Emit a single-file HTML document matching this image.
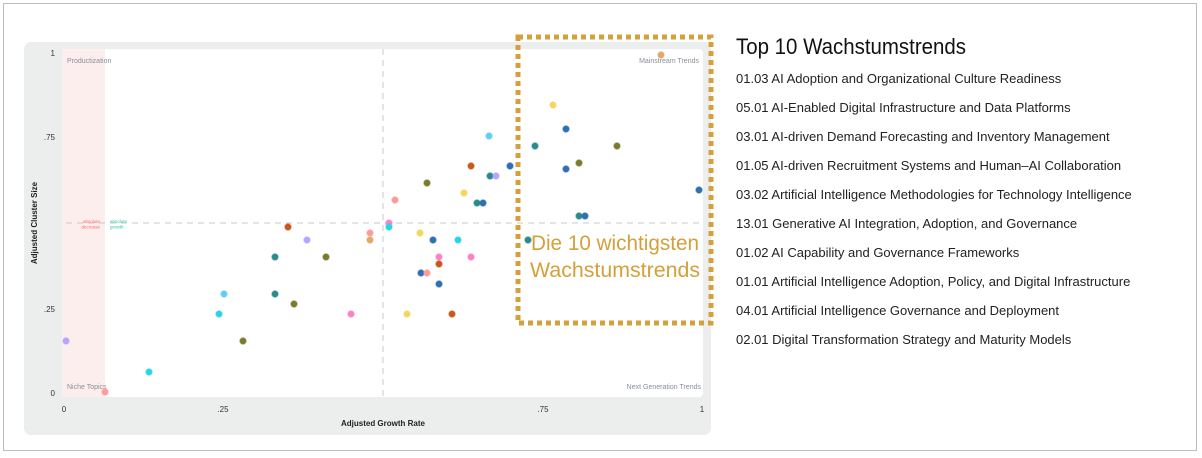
<!DOCTYPE html>
<html><head><meta charset="utf-8"><style>
html,body{margin:0;padding:0;background:#fff;}
svg{display:block;}
</style></head><body>
<svg width="1202" height="458" viewBox="0 0 1202 458" xmlns="http://www.w3.org/2000/svg" font-family="Liberation Sans, sans-serif">
<rect x="3.5" y="3.5" width="1193" height="447" fill="#fff" stroke="#bdbdbd" stroke-width="1"/>
<rect x="24" y="42" width="687" height="393" rx="7" fill="#eceeee"/>
<rect x="62" y="49" width="641" height="348" rx="4" fill="#fff"/>
<rect x="62" y="49" width="43" height="348" fill="#fdeeee"/>
<line x1="383" y1="49" x2="383" y2="397" stroke="#c8c8c8" stroke-dasharray="6,5" stroke-width="1"/>
<line x1="66" y1="223" x2="703" y2="223" stroke="#c8c8c8" stroke-dasharray="6,5" stroke-width="1"/>
<g font-size="7" fill="#8a8f98">
<text x="67" y="63">Productization</text>
<text x="699" y="63" text-anchor="end">Mainstream Trends</text>
<text x="67" y="389">Niche Topics</text>
<text x="701" y="389" text-anchor="end">Next Generation Trends</text>
</g>
<g font-size="4.5">
<text x="100" y="223" text-anchor="end" fill="#ff6a6a">absolute</text>
<text x="100" y="228.5" text-anchor="end" fill="#ff6a6a">decrease</text>
<text x="110" y="223" fill="#2ec4a0">absolute</text>
<text x="110" y="228.5" fill="#2ec4a0">growth</text>
</g>
<g font-size="8" fill="#333">
<text x="55" y="56" text-anchor="end">1</text>
<text x="55" y="140" text-anchor="end">.75</text>
<text x="55" y="312" text-anchor="end">.25</text>
<text x="55" y="396" text-anchor="end">0</text>
<text x="64" y="412" text-anchor="middle">0</text>
<text x="223" y="412" text-anchor="middle">.25</text>
<text x="543" y="412" text-anchor="middle">.75</text>
<text x="702" y="412" text-anchor="middle">1</text>
</g>
<text x="383" y="426" font-size="8" font-weight="bold" fill="#222" text-anchor="middle">Adjusted Growth Rate</text>
<text transform="translate(37,223) rotate(-90)" font-size="8" font-weight="bold" fill="#222" text-anchor="middle">Adjusted Cluster Size</text>
<g stroke-width="1.5" stroke-opacity="0.35">
<circle cx="66" cy="341" r="3.2" fill="#b6a4ff" stroke="#b6a4ff"/>
<circle cx="105" cy="392" r="3.2" fill="#ff9a9a" stroke="#ff9a9a"/>
<circle cx="149" cy="372" r="3.2" fill="#2ad4e8" stroke="#2ad4e8"/>
<circle cx="224" cy="294" r="3.2" fill="#5ecff7" stroke="#5ecff7"/>
<circle cx="219" cy="314" r="3.2" fill="#2ad4e8" stroke="#2ad4e8"/>
<circle cx="243" cy="341" r="3.2" fill="#7b7b2e" stroke="#7b7b2e"/>
<circle cx="275" cy="257" r="3.2" fill="#2b8a8c" stroke="#2b8a8c"/>
<circle cx="275" cy="294" r="3.2" fill="#2b8a8c" stroke="#2b8a8c"/>
<circle cx="288" cy="227" r="3.2" fill="#c8581e" stroke="#c8581e"/>
<circle cx="294" cy="304" r="3.2" fill="#7b7b2e" stroke="#7b7b2e"/>
<circle cx="307" cy="240" r="3.2" fill="#b6a4ff" stroke="#b6a4ff"/>
<circle cx="326" cy="257" r="3.2" fill="#7b7b2e" stroke="#7b7b2e"/>
<circle cx="351" cy="314" r="3.2" fill="#ff80c4" stroke="#ff80c4"/>
<circle cx="370" cy="233" r="3.2" fill="#ff9a9a" stroke="#ff9a9a"/>
<circle cx="370" cy="240" r="3.2" fill="#e2a868" stroke="#e2a868"/>
<circle cx="389" cy="223" r="3.2" fill="#ff80c4" stroke="#ff80c4"/>
<circle cx="389" cy="227" r="3.2" fill="#2ad4e8" stroke="#2ad4e8"/>
<circle cx="395" cy="200" r="3.2" fill="#ff9a9a" stroke="#ff9a9a"/>
<circle cx="407" cy="314" r="3.2" fill="#f0d860" stroke="#f0d860"/>
<circle cx="420" cy="233" r="3.2" fill="#f0d860" stroke="#f0d860"/>
<circle cx="421" cy="273" r="3.2" fill="#2f6fb2" stroke="#2f6fb2"/>
<circle cx="427" cy="273" r="3.2" fill="#ff9a9a" stroke="#ff9a9a"/>
<circle cx="427" cy="183" r="3.2" fill="#7b7b2e" stroke="#7b7b2e"/>
<circle cx="433" cy="240" r="3.2" fill="#2f6fb2" stroke="#2f6fb2"/>
<circle cx="439" cy="257" r="3.2" fill="#ff80c4" stroke="#ff80c4"/>
<circle cx="439" cy="264" r="3.2" fill="#c8581e" stroke="#c8581e"/>
<circle cx="439" cy="284" r="3.2" fill="#2f6fb2" stroke="#2f6fb2"/>
<circle cx="452" cy="314" r="3.2" fill="#c8581e" stroke="#c8581e"/>
<circle cx="458" cy="240" r="3.2" fill="#2ad4e8" stroke="#2ad4e8"/>
<circle cx="464" cy="193" r="3.2" fill="#f0d860" stroke="#f0d860"/>
<circle cx="471" cy="257" r="3.2" fill="#ff80c4" stroke="#ff80c4"/>
<circle cx="471" cy="166" r="3.2" fill="#c8581e" stroke="#c8581e"/>
<circle cx="477" cy="203" r="3.2" fill="#2b8a8c" stroke="#2b8a8c"/>
<circle cx="483" cy="203" r="3.2" fill="#2f6fb2" stroke="#2f6fb2"/>
<circle cx="489" cy="136" r="3.2" fill="#5ecff7" stroke="#5ecff7"/>
<circle cx="490" cy="176" r="3.2" fill="#2b8a8c" stroke="#2b8a8c"/>
<circle cx="496" cy="176" r="3.2" fill="#b6a4ff" stroke="#b6a4ff"/>
<circle cx="510" cy="166" r="3.2" fill="#2f6fb2" stroke="#2f6fb2"/>
<circle cx="528" cy="240" r="3.2" fill="#2b8a8c" stroke="#2b8a8c"/>
<circle cx="535" cy="146" r="3.2" fill="#2b8a8c" stroke="#2b8a8c"/>
<circle cx="553" cy="105" r="3.2" fill="#f0d860" stroke="#f0d860"/>
<circle cx="566" cy="129" r="3.2" fill="#2f6fb2" stroke="#2f6fb2"/>
<circle cx="566" cy="169" r="3.2" fill="#2f6fb2" stroke="#2f6fb2"/>
<circle cx="579" cy="163" r="3.2" fill="#7b7b2e" stroke="#7b7b2e"/>
<circle cx="579" cy="216" r="3.2" fill="#2b8a8c" stroke="#2b8a8c"/>
<circle cx="585" cy="216" r="3.2" fill="#2f6fb2" stroke="#2f6fb2"/>
<circle cx="617" cy="146" r="3.2" fill="#7b7b2e" stroke="#7b7b2e"/>
<circle cx="661" cy="55" r="3.2" fill="#e2a868" stroke="#e2a868"/>
<circle cx="699" cy="190" r="3.2" fill="#2f6fb2" stroke="#2f6fb2"/>
</g>
<rect x="518" y="37" width="193" height="286" fill="none" stroke="#d4a03a" stroke-width="5" stroke-dasharray="5,4"/>
<text x="615" y="250" font-size="21" fill="#d4a03a" text-anchor="middle" textLength="168" lengthAdjust="spacingAndGlyphs">Die 10 wichtigsten</text>
<text x="615" y="277" font-size="21" fill="#d4a03a" text-anchor="middle" textLength="170" lengthAdjust="spacingAndGlyphs">Wachstumstrends</text>
<text x="736" y="54" font-size="22" fill="#111" textLength="230" lengthAdjust="spacingAndGlyphs">Top 10 Wachstumstrends</text>
<g font-size="13" fill="#222">
<text x="736" y="83">01.03 AI Adoption and Organizational Culture Readiness</text>
<text x="736" y="112">05.01 AI-Enabled Digital Infrastructure and Data Platforms</text>
<text x="736" y="141">03.01 AI-driven Demand Forecasting and Inventory Management</text>
<text x="736" y="170">01.05 AI-driven Recruitment Systems and Human–AI Collaboration</text>
<text x="736" y="199">03.02 Artificial Intelligence Methodologies for Technology Intelligence</text>
<text x="736" y="228">13.01 Generative AI Integration, Adoption, and Governance</text>
<text x="736" y="257">01.02 AI Capability and Governance Frameworks</text>
<text x="736" y="286">01.01 Artificial Intelligence Adoption, Policy, and Digital Infrastructure</text>
<text x="736" y="315">04.01 Artificial Intelligence Governance and Deployment</text>
<text x="736" y="344">02.01 Digital Transformation Strategy and Maturity Models</text>
</g>
</svg>
</body></html>
